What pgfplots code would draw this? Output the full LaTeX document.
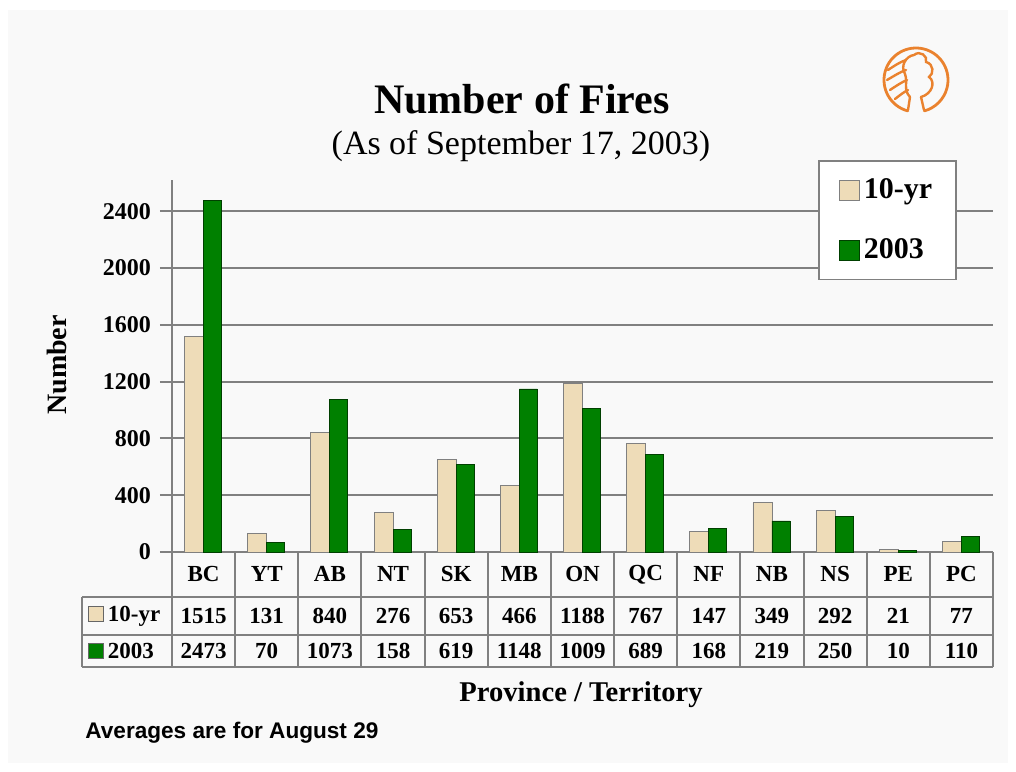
\documentclass[border=0pt]{standalone}
\usepackage{pgfplots}
\pgfplotsset{compat=1.18}
\usepackage{pgfplotstable}
\usepackage{fontspec}
\setmainfont{Liberation Serif}
\newfontfamily\arialfont{Liberation Sans}

\definecolor{tenyr}{RGB}{238,220,184}
\definecolor{fgreen}{RGB}{0,128,0}
\definecolor{panel}{RGB}{249,249,249}
\definecolor{rule}{RGB}{128,128,128}
\definecolor{logo}{RGB}{234,130,46}

% fires by province / territory
\pgfplotstableread{
idx cat tenyr yr2003
0  BC 1515 2473
1  YT 131  70
2  AB 840  1073
3  NT 276  158
4  SK 653  619
5  MB 466  1148
6  ON 1188 1009
7  QC 767  689
8  NF 147  168
9  NB 349  219
10 NS 292  250
11 PE 21   10
12 PC 77   110
}\firedata

\newcommand\keybox[1]{{\fboxsep=0pt\fboxrule=0.4pt\fcolorbox{black!60}{#1}{\rule{0pt}{7pt}\rule{7pt}{0pt}}}}

\begin{document}
\begin{tikzpicture}
% background, in pixel units of the reference (y down)
\begin{scope}[x=0.5pt,y=-0.5pt,shift={(-86pt,276pt)}]
\fill[white] (0,0) rectangle (1016,771);
\fill[panel] (8,10) rectangle (1008,763);
\end{scope}

\begin{axis}[
    at={(0,0)}, anchor=south west,
    scale only axis,
    width=410.5pt, height=186pt,
    xmin=-0.5, xmax=12.5,
    ymin=0, ymax=2620,
    clip=false,
    axis x line=none,
    axis y line*=left,
    ytick={0,400,...,2400},
    ymajorgrids,
    grid style={rule, line width=1pt},
    axis line style={rule, line width=1pt},
    tick style={rule, line width=1pt},
    tick align=outside,
    major tick length=6pt,
    yticklabel style={font=\bfseries\fontsize{12}{15}\selectfont, xshift=-1pt},
    /pgf/number format/assume math mode=true,
    /pgf/number format/set thousands separator={},
    legend style={at={(rel axis cs:0.956,1.054)}, anchor=north east,
        draw=rule, line width=0.8pt, fill=white,
        font=\bfseries\fontsize{15}{18}\selectfont,
        inner xsep=10pt, inner ysep=7pt, row sep=14.5pt},
    legend cell align=left,
    legend image code/.code={\draw[#1, line width=0.4pt] (0pt,-5pt) rectangle (10pt,5pt);},
    nodes near coords style={anchor=center, text=black,
        font=\bfseries\fontsize{11.5}{14}\selectfont},
]
\addplot[ybar, bar width=9.5pt, bar shift=-4.75pt, fill=tenyr, draw=black!50]
    table[x=idx, y=tenyr] {\firedata};
\addlegendentry{10-yr}
\addplot[ybar, bar width=9pt, bar shift=4.5pt, fill=fgreen, draw=black!50!fgreen]
    table[x=idx, y=yr2003] {\firedata};
\addlegendentry{2003}

% data table rows under the bars
\addplot[draw=none, mark=none, forget plot, nodes near coords, point meta=explicit symbolic]
    table[x=idx, y expr=-158, meta=cat] {\firedata};
\addplot[draw=none, mark=none, forget plot, nodes near coords, point meta=explicit symbolic]
    table[x=idx, y expr=-450, meta=tenyr] {\firedata};
\addplot[draw=none, mark=none, forget plot, nodes near coords, point meta=explicit symbolic]
    table[x=idx, y expr=-697, meta=yr2003] {\firedata};
\end{axis}

\begin{scope}[x=0.5pt,y=-0.5pt,shift={(-86pt,276pt)}]
% table grid
\foreach \k in {0,...,13}
    \draw[rule, line width=1pt] (172+63.154*\k,552) -- (172+63.154*\k,667);
\draw[rule, line width=1pt] (82,597) -- (993,597);
\draw[rule, line width=1pt] (82,635) -- (993,635);
\draw[rule, line width=1pt] (82,667) -- (993,667);
\draw[rule, line width=1pt] (82,597) -- (82,667);
\node[anchor=west, inner sep=0pt, font=\bfseries\fontsize{11.5}{14}\selectfont]
    at (88,616) {\keybox{tenyr}\hspace{2pt}10-yr};
\node[anchor=west, inner sep=0pt, font=\bfseries\fontsize{11.5}{14}\selectfont]
    at (88,651) {\keybox{fgreen}\hspace{2pt}2003};

% titles and labels
\node[font=\bfseries\fontsize{21}{25}\selectfont] at (522,99) {Number of Fires};
\node[font=\fontsize{17}{20}\selectfont] at (521,146) {(As of September 17, 2003)};
\node[rotate=90, font=\bfseries\fontsize{14}{17}\selectfont] at (57,365) {Number};
\node[font=\bfseries\fontsize{14.3}{17}\selectfont] at (581,695) {Province / Territory};
\node[anchor=west, inner sep=0pt, font=\arialfont\bfseries\fontsize{11.3}{14}\selectfont]
    at (85,733) {Averages are for August 29};

% logo
\begin{scope}[logo, line cap=round]
\draw[line width=1.4pt] (916,80) ++(105:32) arc[start angle=105, end angle=435, radius=32];
\draw[line width=1.2pt] (908,110) -- (910,97) (924,110) -- (921,97);
\draw[line width=1.2pt] (910,97) .. controls (903,90) and (908,82) .. (905,74)
    .. controls (900,66) and (906,56) .. (914,55)
    .. controls (920,50) and (928,56) .. (926,62)
    .. controls (934,64) and (934,74) .. (929,77)
    .. controls (936,82) and (932,94) .. (921,97);
\draw[line width=1.2pt] (888,70) .. controls (894,66) and (900,62) .. (906,60);
\draw[line width=1.2pt] (887,80) .. controls (894,76) and (900,72) .. (906,70);
\draw[line width=1.2pt] (890,90) .. controls (896,86) and (902,82) .. (907,80);
\draw[line width=1.2pt] (895,99) .. controls (900,95) and (904,92) .. (908,90);
\end{scope}
\end{scope}
\end{tikzpicture}
\end{document}
